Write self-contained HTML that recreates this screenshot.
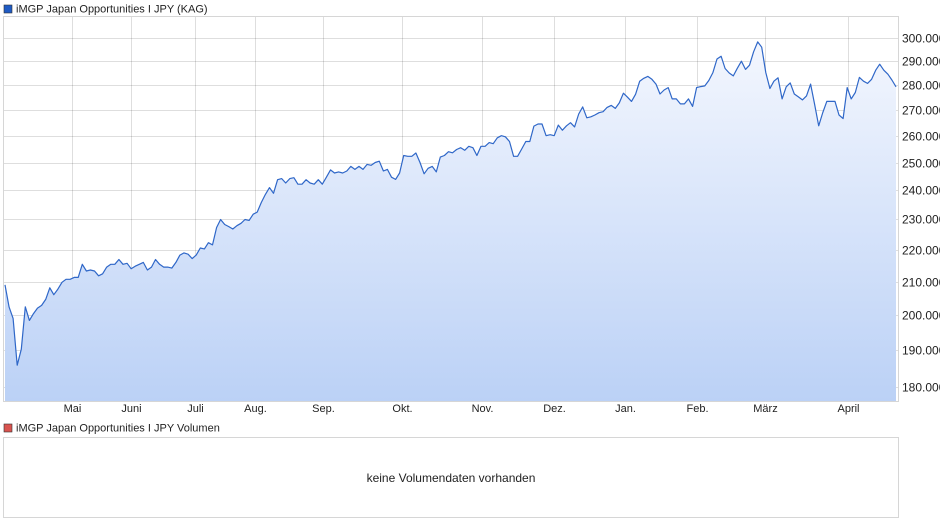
<!DOCTYPE html>
<html><head><meta charset="utf-8"><style>
body{margin:0;background:#fff;font-family:"Liberation Sans",Arial,sans-serif}
svg{display:block}
</style></head><body>
<svg id="chart" width="940" height="526" font-family="Liberation Sans, Arial, sans-serif">
<defs><linearGradient id="fillg" gradientUnits="userSpaceOnUse" x1="0" y1="38" x2="0" y2="401">
<stop offset="0" stop-color="#f4f7fe"/><stop offset="1" stop-color="#bbd1f6"/></linearGradient></defs>
<rect x="4" y="5" width="8" height="8" fill="#1f5bc4" stroke="#333" stroke-width="0.6"/>
<text x="16" y="12.5" font-size="11" fill="#222">iMGP Japan Opportunities I JPY (KAG)</text>
<g id="grid"></g>
<text x="452" y="211" font-size="26" font-style="italic" font-weight="bold" fill="#000" fill-opacity="0.035" text-anchor="middle">ARIVA.DE</text>
<g id="series"></g>
<rect x="3.5" y="16.5" width="895" height="385" fill="none" stroke="#d6d6d6"/>
<g id="axes"></g>
<rect x="4" y="424" width="8" height="8" fill="#d9534f" stroke="#333" stroke-width="0.6"/>
<text x="16" y="431.5" font-size="11" fill="#222">iMGP Japan Opportunities I JPY Volumen</text>
<rect x="3.5" y="437.5" width="895" height="80" fill="#fff" stroke="#d6d6d6"/>
<text x="451" y="482" font-size="12" fill="#222" text-anchor="middle">keine Volumendaten vorhanden</text>
</svg>
<script>
const yTicks=[180,190,200,210,220,230,240,250,260,270,280,290,300];
const monthLabels=["Mai","Juni","Juli","Aug.","Sep.","Okt.","Nov.","Dez.","Jan.","Feb.","März","April"];
const monthDays=[29.3,54.7,82.3,108.1,137.4,171.4,205.9,236.9,267.4,298.4,327.7,363.5];
const totalDays=385;
const prices=[209,202.3,199,185.8,190.2,202.4,198.4,200.4,202,202.8,204.6,208.1,206,207.7,209.8,210.7,210.7,211.3,211.3,215.4,213.3,213.6,213.3,211.8,212.4,214.5,215.4,215.4,216.9,215.4,215.7,214,214.8,215.4,216,213.6,214.5,216.9,215.4,214.5,214.5,214.2,216,218.3,219,218.6,217.2,218.3,220.6,220.3,222.3,221.6,227.3,230,228.3,227.6,226.8,227.9,228.7,230,229.7,231.8,232.5,235.8,238.6,241,239,243.8,244.2,242.6,244.2,244.5,242.2,242.2,243.8,242.6,242.2,243.8,242.2,244.7,247.3,246.2,246.6,246.2,246.9,248.6,247.5,248.6,247.5,249.3,249,250,250.5,246.9,247.5,244.7,243.9,246.2,252.6,252.3,252.3,253.5,250,245.9,247.9,248.6,246.6,252,252.6,254,253.6,254.8,255.5,254.5,256,255.5,252.6,256,256,257.4,257,259.2,260,259.6,257.8,252.3,252.3,255,257.8,257.8,263.7,264.5,264.5,260,260.4,260,264.1,262.1,263.8,265,263.4,268.4,271.2,266.9,267.3,268,268.9,269.3,271,271.8,270.6,272.8,276.7,275.1,273.4,276.3,281.6,282.8,283.6,282.4,280.4,276.4,278,279,274.4,274.4,272.4,272.4,274.4,271.4,279,279.4,279.7,281.9,285.2,290.9,292.1,286.9,285,283.8,287,290,286.5,288.3,294,298.3,296,285.2,278.6,281.6,283,274.4,279.3,280.9,276.4,275.2,274,275.6,280.4,272.3,263.8,269,273.4,273.4,273.4,268,266.6,279,274.4,277,283.2,281.6,280.7,282.4,286.2,288.7,286.2,284.5,282.1,279.3];
const NS="http://www.w3.org/2000/svg";
const yScale=v=>38+683*Math.log(300/v);
const xIdx=i=>5+i*(891/(prices.length-1));
const xDay=d=>4+d*(894/totalDays);
const grid=document.getElementById('grid'),axes=document.getElementById('axes'),series=document.getElementById('series');
function mk(tag,attrs,parent){const e=document.createElementNS(NS,tag);for(const k in attrs)e.setAttribute(k,attrs[k]);parent.appendChild(e);return e;}
yTicks.forEach(v=>{const y=Math.round(yScale(v))+0.5;
 const l=mk('line',{x1:4,x2:898,y1:y,y2:y,stroke:'#000','stroke-opacity':0.13},grid);
 
 
 const t=mk('text',{x:902,y:y+4,'font-size':12,fill:'#222'},axes);
 t.textContent=v.toFixed(0)+'.000';
 
 
});
monthDays.forEach((d,i)=>{const x=Math.round(xDay(d))+0.5;
 const l=mk('line',{x1:x,x2:x,y1:17,y2:401,stroke:'#000','stroke-opacity':0.13},grid);
 
 
 const t=mk('text',{x:x,y:412,'font-size':11,fill:'#222','text-anchor':'middle'},axes);
 t.textContent=monthLabels[i];
 
 
});
let pts=prices.map((v,i)=>xIdx(i).toFixed(1)+','+yScale(v).toFixed(1));
const area=mk('path',{d:'M'+xIdx(0)+',401 L'+pts.join(' L')+' L'+xIdx(prices.length-1)+',401 Z',fill:'url(#fillg)'},series);


const line=mk('polyline',{points:pts.join(' '),fill:'none',stroke:'#2f67c8','stroke-width':1.2,'stroke-linejoin':'round'},series);


</script>
</body></html>
